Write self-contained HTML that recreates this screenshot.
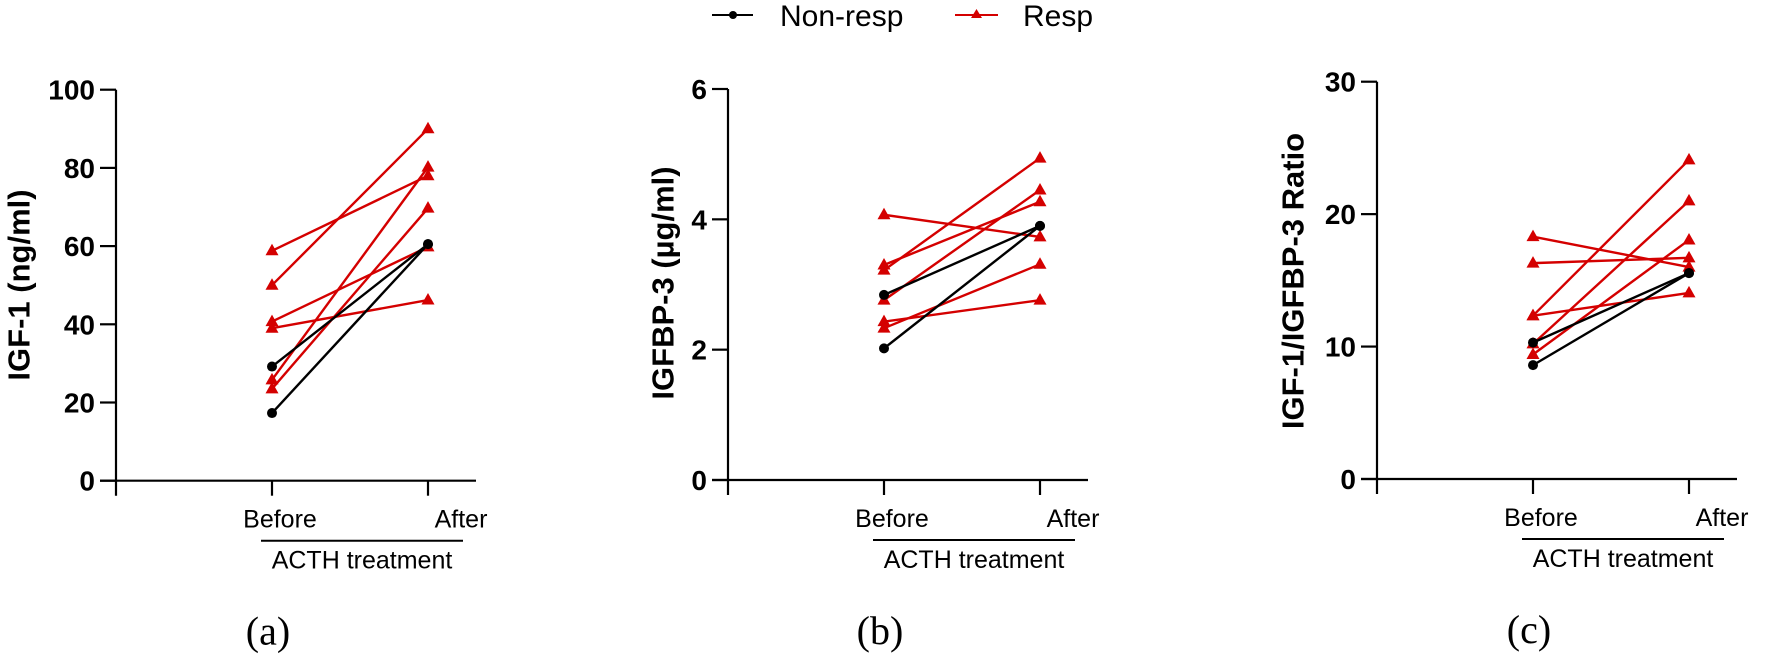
<!DOCTYPE html>
<html><head><meta charset="utf-8"><style>
html,body{margin:0;padding:0;background:#fff;}
svg{display:block;}
text{font-family:"Liberation Sans",Arial,sans-serif;}
</style></head><body>
<svg id="fig" width="1772" height="654" viewBox="0 0 1772 654" xmlns="http://www.w3.org/2000/svg">
<g>
  <g>
    <line x1="712" y1="15" x2="753" y2="15" stroke="#000" stroke-width="2"/>
    <circle cx="733" cy="15" r="4" fill="#000"/>
    <text x="780" y="26" font-size="30" fill="#000">Non-resp</text>
  </g>
  <g>
    <line x1="955" y1="15" x2="998" y2="15" stroke="#d40000" stroke-width="2"/>
    <polygon points="976.5,9 982,18 971,18" fill="#d40000"/>
    <text x="1023" y="26" font-size="30" fill="#000">Resp</text>
  </g>
</g>
</svg>
<script>
// Panel (a) IGF-1
const aTicks = [0,20,40,60,80,100];
const aNonBefore = [29.2,17.3];
const aNonAfter = [60.5,60.5];
const aRespBefore = [58.8,50,40.7,39,25.8,23.5];
const aRespAfter = [78,90,59.8,46.2,80.2,69.7];
// Panel (b) IGFBP-3
const bTicks = [0,2,4,6];
const bNonBefore = [2.84,2.02];
const bNonAfter = [3.90,3.90];
const bRespBefore = [4.07,3.30,3.22,2.76,2.43,2.33];
const bRespAfter = [3.73,4.27,4.94,4.45,2.76,3.31];
// Panel (c) ratio
const cTicks = [0,10,20,30];
const cNonBefore = [10.3,8.6];
const cNonAfter = [15.55,15.55];
const cRespBefore = [18.3,16.3,12.33,12.33,10.2,9.4];
const cRespAfter = [16.0,16.7,24.1,14.05,21.0,18.05];
const categories = ["Before","After"];

const NS = "http://www.w3.org/2000/svg";
const svg = document.getElementById('fig');
function mk(tag, attrs, parent){const e=document.createElementNS(NS,tag);for(const k in attrs)e.setAttribute(k,attrs[k]);(parent||svg).appendChild(e);return e;}

function panel(cfg){
  const g = mk('g',{});
  
  
  const ax = cfg.axisX, y0 = cfg.y0, yTop = cfg.yTop, max = cfg.ticks[cfg.ticks.length-1];
  const ys = v => y0 - (v/max)*(y0-yTop);
  const xs = i => ax + 156*(i+1);
  const yAxis = mk('line',{x1:ax,y1:yTop,x2:ax,y2:y0+15,stroke:'#000','stroke-width':2.2},g);
  
  
  cfg.ticks.forEach(t=>{
    mk('line',{x1:ax-16,y1:ys(t),x2:ax,y2:ys(t),stroke:'#000','stroke-width':2.2},g);
    const tl = mk('text',{x:ax-21,y:ys(t)+10,'font-size':28,'font-weight':'bold','text-anchor':'end'},g);
    tl.textContent = t;
    
    
  });
  const xAxis = mk('line',{x1:ax-16,y1:y0,x2:ax+360,y2:y0,stroke:'#000','stroke-width':2.2},g);
  
  
  categories.forEach((c,i)=>{
    mk('line',{x1:xs(i),y1:y0,x2:xs(i),y2:y0+15,stroke:'#000','stroke-width':2.2},g);
    const tl = mk('text',{x:i===0?ax+164:ax+345,y:y0+47,'font-size':25,'text-anchor':'middle'},g);
    tl.textContent = c;
    
    
  });
  mk('line',{x1:ax+145,y1:y0+60,x2:ax+347,y2:y0+60,stroke:'#000','stroke-width':2},g);
  const xt = mk('text',{x:ax+246,y:y0+88,'font-size':25,'text-anchor':'middle'},g);
  xt.textContent = 'ACTH treatment';
  
  
  const yt = mk('text',{x:0,y:0,'font-size':31,'font-weight':'bold','text-anchor':'middle','dominant-baseline':'central',transform:`translate(${cfg.titleX},${cfg.titleY}) rotate(-90)`},g);
  yt.textContent = cfg.title;
  
  
  const pl = mk('text',{x:ax+152,y:y0+164,'font-size':40,'text-anchor':'middle',style:'font-family:"Liberation Serif",serif'},g);
  pl.textContent = '(' + cfg.id + ')';
  
  
  cfg.respB.forEach((v,i)=>{
    const l = mk('line',{x1:xs(0),y1:ys(v),x2:xs(1),y2:ys(cfg.respA[i]),stroke:'#d40000','stroke-width':2.4},g);
    
    
    [[xs(0),ys(v)],[xs(1),ys(cfg.respA[i])]].forEach(p=>{
      const m = mk('polygon',{points:`${p[0]},${p[1]-7} ${p[0]+6.5},${p[1]+4.5} ${p[0]-6.5},${p[1]+4.5}`,fill:'#d40000'},g);
      
      
    });
  });
  cfg.nonB.forEach((v,i)=>{
    const l = mk('line',{x1:xs(0),y1:ys(v),x2:xs(1),y2:ys(cfg.nonA[i]),stroke:'#000','stroke-width':2.4},g);
    
    
    [[xs(0),ys(v)],[xs(1),ys(cfg.nonA[i])]].forEach(p=>{
      const m = mk('circle',{cx:p[0],cy:p[1],r:5,fill:'#000'},g);
      
      
    });
  });
}
panel({id:'a',axisX:116,y0:480.7,yTop:89.7,ticks:aTicks,title:'IGF-1 (ng/ml)',titleX:19,titleY:285,nonB:aNonBefore,nonA:aNonAfter,respB:aRespBefore,respA:aRespAfter});
panel({id:'b',axisX:728,y0:480,yTop:89,ticks:bTicks,title:'IGFBP-3 (µg/ml)',titleX:663,titleY:283,nonB:bNonBefore,nonA:bNonAfter,respB:bRespBefore,respA:bRespAfter});
panel({id:'c',axisX:1377,y0:479,yTop:81.7,ticks:cTicks,title:'IGF-1/IGFBP-3 Ratio',titleX:1293,titleY:281,nonB:cNonBefore,nonA:cNonAfter,respB:cRespBefore,respA:cRespAfter});
</script>
</body></html>
